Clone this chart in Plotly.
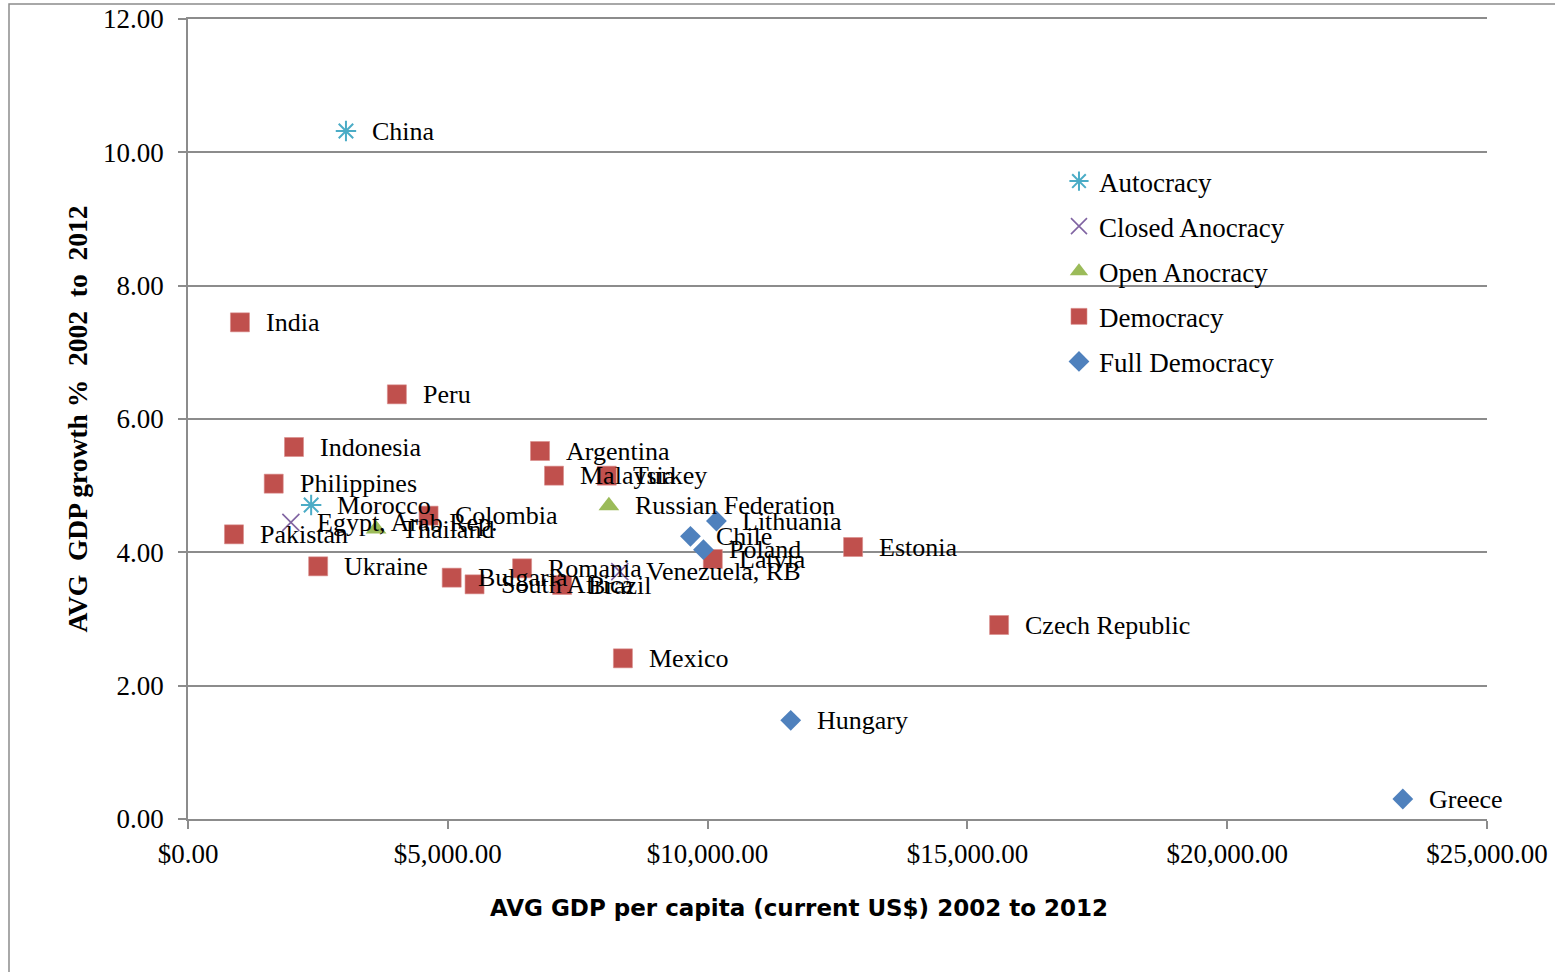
import plotly.graph_objects as go

# ---------------- data ----------------
autocracy_names = ["China", "Morocco"]
autocracy_gdp = [3040, 2370]
autocracy_growth = [10.32, 4.71]

closed_names = ["Egypt, Arab Rep.", "Venezuela, RB"]
closed_gdp = [1980, 8310]
closed_growth = [4.45, 3.71]

open_names = ["Thailand", "Russian Federation"]
open_gdp = [3620, 8100]
open_growth = [4.35, 4.70]

democracy_names = ["India", "Peru", "Indonesia", "Philippines", "Pakistan", "Colombia",
                   "Ukraine", "Bulgaria", "South Africa", "Romania", "Brazil", "Argentina",
                   "Malaysia", "Turkey", "Mexico", "Latvia", "Estonia", "Czech Republic"]
democracy_gdp = [1000, 4020, 2040, 1650, 885, 4630,
                 2505, 5075, 5515, 6430, 7200, 6775,
                 7044, 8060, 8370, 10100, 12800, 15610]
democracy_growth = [7.45, 6.37, 5.58, 5.03, 4.27, 4.55,
                    3.79, 3.62, 3.52, 3.76, 3.51, 5.52,
                    5.15, 5.15, 2.41, 3.90, 4.08, 2.91]

full_names = ["Lithuania", "Chile", "Poland", "Hungary", "Greece"]
full_gdp = [10170, 9670, 9920, 11600, 23380]
full_growth = [4.47, 4.24, 4.04, 1.48, 0.30]

series_names = ["Autocracy", "Closed Anocracy", "Open Anocracy", "Democracy", "Full Democracy"]

y_ticks = [0, 2, 4, 6, 8, 10, 12]
x_ticks = [0, 5000, 10000, 15000, 20000, 25000]

# ---------------- styles ----------------
SERIF = "Liberation Serif"
GRID = "#8c8c8c"

series = [
    (series_names[0], autocracy_names, autocracy_gdp, autocracy_growth,
     dict(symbol="asterisk-open", size=17, color="#4BACC6", line=dict(color="#4BACC6", width=2))),
    (series_names[1], closed_names, closed_gdp, closed_growth,
     dict(symbol="x-thin-open", size=17, color="#8064A2", line=dict(color="#8064A2", width=1.6))),
    (series_names[2], open_names, open_gdp, open_growth,
     dict(symbol="triangle-up", size=18, color="#9BBB59", line=dict(width=0))),
    (series_names[3], democracy_names, democracy_gdp, democracy_growth,
     dict(symbol="square", size=19, color="#C0504D", line=dict(color="#D88C8A", width=0.6))),
    (series_names[4], full_names, full_gdp, full_growth,
     dict(symbol="diamond", size=16, color="#4F81BD", line=dict(width=0))),
]

fig = go.Figure()
annotations = []
for i, (label, names, xs, ys, marker) in enumerate(series):
    fig.add_trace(go.Scatter(
        x=xs, y=ys, mode="markers", name=label, marker=marker,
        legendgroup=f"g{i}", hoverinfo="text+x+y", text=names,
    ))
    for n, xv, yv in zip(names, xs, ys):
        annotations.append(dict(
            x=xv, y=yv, xref="x", yref="y", text=n, showarrow=False,
            xanchor="left", yanchor="middle", xshift=24, yshift=0,
            font=dict(family=SERIF, size=26, color="#000000"),
        ))

# x-axis title as annotation (it is offset left of the plot centre)
annotations.append(dict(
    x=0.4704, y=-0.111, xref="paper", yref="paper", showarrow=False,
    text="<b>AVG GDP per capita (current US$) 2002 to 2012</b>",
    xanchor="center", yanchor="middle",
    font=dict(family="DejaVu Sans", size=23, color="#000000"),
))

W, H = 1555, 972
L, T = 188, 19
fig.update_layout(
    width=W, height=H,
    margin=dict(l=L, r=W - L - 1299, t=T, b=H - T - 800, pad=0, autoexpand=False),
    paper_bgcolor="white", plot_bgcolor="white",
    showlegend=True,
    legend=dict(
        x=0.6705, y=0.8275, xanchor="left", yanchor="top",
        font=dict(family=SERIF, size=27, color="#000000"),
        bgcolor="rgba(0,0,0,0)", borderwidth=0,
        tracegroupgap=7, itemsizing="trace",
    ),
    annotations=annotations,
    shapes=[dict(
        type="rect", xref="paper", yref="paper",
        x0=-0.1378, x1=1.08, y0=-0.25, y1=1.01875,
        line=dict(color="#8c8c8c", width=1.5), fillcolor="rgba(0,0,0,0)", layer="below",
    )],
)

fig.update_xaxes(
    range=[0, 25000], tickvals=x_ticks, tickformat="$,.2f",
    showgrid=False, zeroline=False, automargin=False,
    showline=True, mirror=True, linecolor=GRID, linewidth=1.5,
    ticks="outside", ticklen=8, tickwidth=1.5, tickcolor=GRID,
    tickfont=dict(family=SERIF, size=27, color="#000000"),
    ticklabelstandoff=2,
)
fig.update_yaxes(
    range=[0, 12], tickvals=y_ticks, tickformat=".2f",
    showgrid=True, gridcolor=GRID, gridwidth=1.5, zeroline=False, automargin=False,
    showline=True, linecolor=GRID, linewidth=1.5,
    ticks="outside", ticklen=8, tickwidth=1.5, tickcolor=GRID,
    tickfont=dict(family=SERIF, size=27, color="#000000"),
    ticklabelstandoff=9, ticklabeloverflow="allow",
    title=dict(
        text="<b>AVG\u00a0\u00a0GDP growth %\u00a0\u00a02002\u00a0\u00a0to\u00a0\u00a02012</b>",
        font=dict(family=SERIF, size=27.5, color="#000000"), standoff=7,
    ),
)

# remove the default 8px page margin so the figure fills the window exactly
fig.write_html(
    "out.html",
    config={"displayModeBar": False},
    post_script="document.body.style.margin='0';",
)
